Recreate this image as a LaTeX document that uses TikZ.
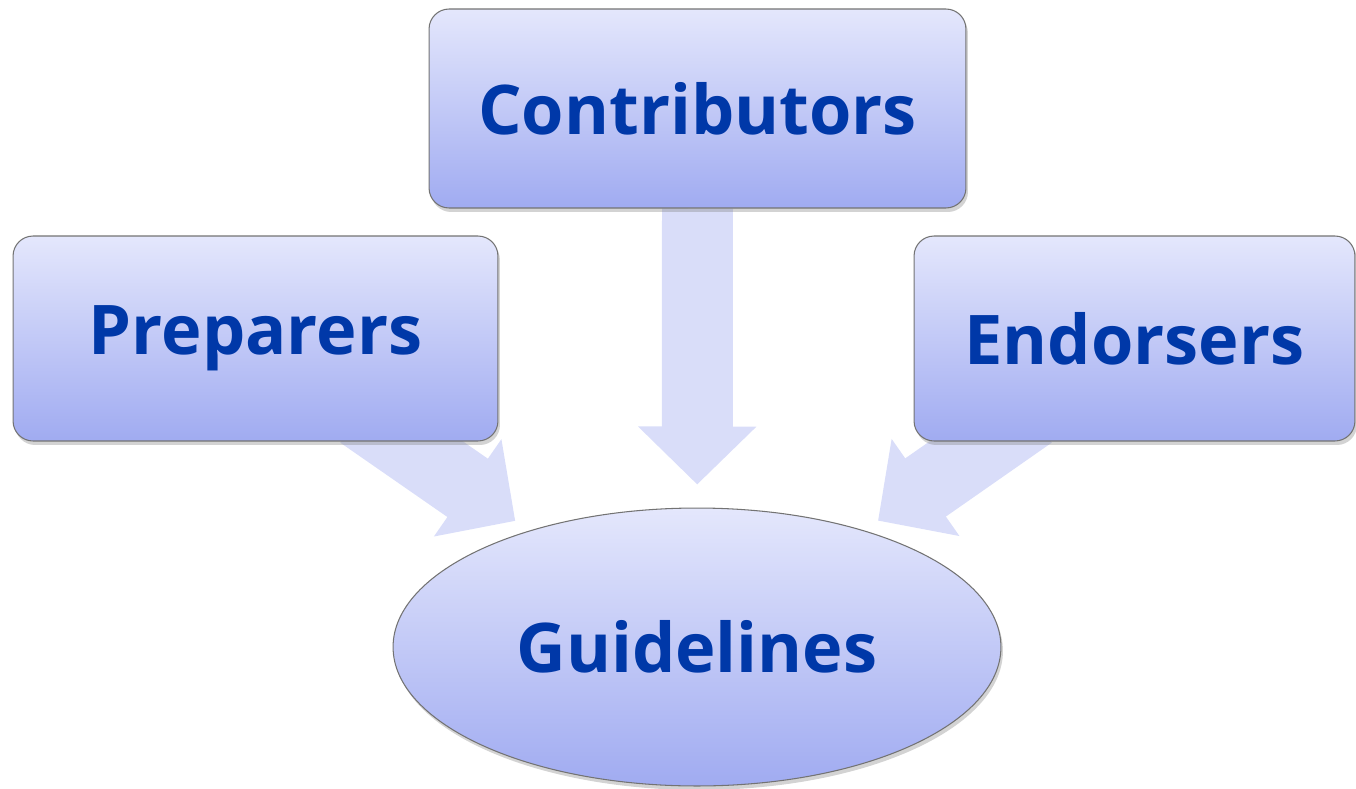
\documentclass[tikz,border=0pt]{standalone}
\usepackage{fontspec}
\setmainfont{Open Sans}
\usetikzlibrary{shapes.geometric,shadows,arrows.meta,backgrounds,calc}
\definecolor{boxtop}{RGB}{228,231,252}
\definecolor{boxbot}{RGB}{160,171,241}
\definecolor{flowfill}{RGB}{217,221,249}
\definecolor{labelblue}{RGB}{0,56,168}
\tikzset{
  box/.style={draw=black!55, line width=0.6pt, top color=boxtop, bottom color=boxbot,
    drop shadow={shadow xshift=0.04cm, shadow yshift=-0.08cm, opacity=0.35},
    text=labelblue, font=\fontsize{39}{47}\selectfont\bfseries},
  roundbox/.style={box, rectangle, rounded corners=0.4cm},
  flow/.style={draw=flowfill, line width=1.42cm,
    -{Triangle[length=1.16cm, width=2.3cm, fill=flowfill]}}
}
\begin{document}
\begin{tikzpicture}[x=0.02cm, y=-0.02cm]
\useasboundingbox (0,0) rectangle (1356,788);
% the four groups
\node[roundbox, minimum width=10.74cm, minimum height=3.98cm] (contrib) at (697.5,108.5) {Contributors};
\node[roundbox, minimum width=9.7cm, minimum height=4.1cm] (prep) at (255.5,338.5) {Preparers};
\node[roundbox, minimum width=8.82cm, minimum height=4.1cm] (endo) at (1134.5,338.5) {Endorsers};
\node[box, ellipse, minimum width=12.16cm, minimum height=5.56cm] (guide) at (697,647) {Guidelines};
% block arrows behind the boxes
\begin{scope}[on background layer]
\draw[flow, shorten >=0.46cm] (contrib.south) -- (guide);
\draw[flow, shorten >=0.34cm] ($(prep.south)+(105,-28)$) -- (guide);
\draw[flow, shorten >=0.34cm] ($(endo.south)+(-103,-28)$) -- (guide);
\end{scope}
\end{tikzpicture}
\end{document}
